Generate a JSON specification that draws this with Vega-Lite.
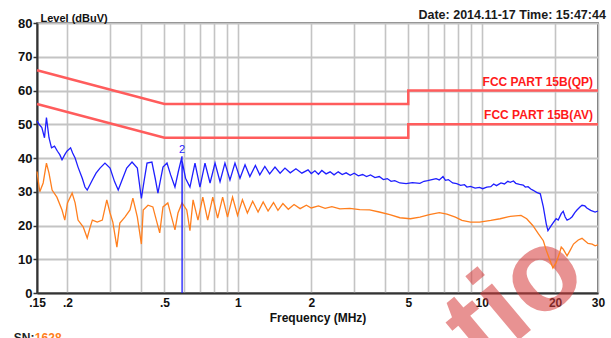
{
  "$schema": "https://vega.github.io/schema/vega-lite/v6.json",
  "width": 561,
  "height": 270,
  "autosize": {"type": "none"},
  "padding": {"left": 37, "top": 23, "right": 13, "bottom": 45},
  "background": "white",
  "title": {"text": "Date: 2014.11-17  Time: 15:47:44", "anchor": "end", "fontSize": 12.5, "fontWeight": "bold", "font": "Liberation Sans", "color": "#1a1a1a", "offset": -9},
  "config": {
    "view": {"stroke": "#3a3a3a", "strokeWidth": 1.5},
    "font": "Liberation Sans"
  },
  "datasets": {
    "limits": [
      {"s": "QP", "i": 1, "f": 0.15, "v": 66},
      {"s": "QP", "i": 2, "f": 0.5, "v": 56},
      {"s": "QP", "i": 3, "f": 5, "v": 56},
      {"s": "QP", "i": 4, "f": 5, "v": 60},
      {"s": "QP", "i": 5, "f": 30, "v": 60},
      {"s": "AV", "i": 1, "f": 0.15, "v": 56},
      {"s": "AV", "i": 2, "f": 0.5, "v": 46},
      {"s": "AV", "i": 3, "f": 5, "v": 46},
      {"s": "AV", "i": 4, "f": 5, "v": 50},
      {"s": "AV", "i": 5, "f": 30, "v": 50}
    ],
    "labels": [
      {"f": 30, "v": 60, "t": "FCC PART 15B(QP)"},
      {"f": 30, "v": 50, "t": "FCC PART 15B(AV)"}
    ],
    "marker": [{"f": 0.59, "v": 40.5, "t": "2"}],
    "watermark": [{"f": 10.17, "v": -22.8, "t": "tio"}],
    "footer": [
      {"f": 0.1204, "v": -14.5, "t": "SN:", "c": "k"},
      {"f": 0.147, "v": -14.5, "t": "1628", "c": "o"}
    ],
    "blue": [
      {"f": 0.150, "v": 51}, {"f": 0.153, "v": 50}, {"f": 0.157, "v": 49}, {"f": 0.161, "v": 46},
      {"f": 0.164, "v": 52}, {"f": 0.168, "v": 46}, {"f": 0.172, "v": 43}, {"f": 0.177, "v": 43.5},
      {"f": 0.182, "v": 42}, {"f": 0.186, "v": 41}, {"f": 0.190, "v": 39.5}, {"f": 0.195, "v": 41},
      {"f": 0.199, "v": 42}, {"f": 0.206, "v": 43}, {"f": 0.210, "v": 41.5}, {"f": 0.215, "v": 40},
      {"f": 0.221, "v": 37.3}, {"f": 0.230, "v": 34}, {"f": 0.236, "v": 31.4}, {"f": 0.241, "v": 30.5},
      {"f": 0.247, "v": 32}, {"f": 0.253, "v": 33.5}, {"f": 0.262, "v": 35.5}, {"f": 0.272, "v": 37},
      {"f": 0.285, "v": 38.5}, {"f": 0.299, "v": 37}, {"f": 0.312, "v": 33}, {"f": 0.323, "v": 30.5},
      {"f": 0.335, "v": 33.5}, {"f": 0.350, "v": 37}, {"f": 0.368, "v": 38.8}, {"f": 0.387, "v": 37},
      {"f": 0.402, "v": 28}, {"f": 0.412, "v": 33}, {"f": 0.424, "v": 38.5}, {"f": 0.444, "v": 38.8},
      {"f": 0.458, "v": 34}, {"f": 0.470, "v": 29.6}, {"f": 0.480, "v": 33}, {"f": 0.493, "v": 37.3},
      {"f": 0.512, "v": 38.5}, {"f": 0.530, "v": 35}, {"f": 0.552, "v": 31.4}, {"f": 0.570, "v": 36},
      {"f": 0.590, "v": 40.5}, {"f": 0.5905, "v": 0}, {"f": 0.591, "v": 39}, {"f": 0.610, "v": 34},
      {"f": 0.636, "v": 31.4}, {"f": 0.667, "v": 38.5}, {"f": 0.699, "v": 31.4}, {"f": 0.733, "v": 38.5},
      {"f": 0.769, "v": 32.6}, {"f": 0.806, "v": 38.5}, {"f": 0.845, "v": 33}, {"f": 0.885, "v": 38.5},
      {"f": 0.928, "v": 33.5}, {"f": 0.973, "v": 38.5}, {"f": 1.02, "v": 34}, {"f": 1.07, "v": 38},
      {"f": 1.12, "v": 34.5}, {"f": 1.18, "v": 37.8}, {"f": 1.23, "v": 35}, {"f": 1.29, "v": 37.5},
      {"f": 1.35, "v": 35.3}, {"f": 1.42, "v": 37.3}, {"f": 1.49, "v": 35.5}, {"f": 1.56, "v": 37},
      {"f": 1.64, "v": 35.6}, {"f": 1.73, "v": 36.8}, {"f": 1.83, "v": 35.5}, {"f": 1.94, "v": 36.5},
      {"f": 2.00, "v": 35.4}, {"f": 2.07, "v": 36.2}, {"f": 2.14, "v": 35.2}, {"f": 2.21, "v": 36.3},
      {"f": 2.30, "v": 35.3}, {"f": 2.39, "v": 35.9}, {"f": 2.48, "v": 35.0}, {"f": 2.58, "v": 35.9},
      {"f": 2.68, "v": 35.1}, {"f": 2.78, "v": 35.6}, {"f": 2.89, "v": 34.9}, {"f": 3.0, "v": 35.5},
      {"f": 3.12, "v": 34.7}, {"f": 3.25, "v": 35.1}, {"f": 3.37, "v": 34.5}, {"f": 3.5, "v": 35},
      {"f": 3.65, "v": 34.2}, {"f": 3.8, "v": 34.5}, {"f": 3.95, "v": 33.6}, {"f": 4.1, "v": 33.9},
      {"f": 4.25, "v": 33.1}, {"f": 4.4, "v": 33.3}, {"f": 4.62, "v": 32.6}, {"f": 4.9, "v": 32.4},
      {"f": 5.2, "v": 32.7}, {"f": 5.58, "v": 32.5}, {"f": 5.8, "v": 33.1}, {"f": 6.0, "v": 33.3},
      {"f": 6.25, "v": 33.6}, {"f": 6.5, "v": 33.9}, {"f": 6.7, "v": 33.5}, {"f": 6.94, "v": 34.5},
      {"f": 7.1, "v": 33.4}, {"f": 7.3, "v": 33.6}, {"f": 7.6, "v": 32.6}, {"f": 7.9, "v": 32.4},
      {"f": 8.2, "v": 31.9}, {"f": 8.5, "v": 32.1}, {"f": 8.7, "v": 31.4}, {"f": 9.0, "v": 31.6},
      {"f": 9.4, "v": 31.1}, {"f": 9.8, "v": 31.3}, {"f": 10.1, "v": 30.9}, {"f": 10.5, "v": 31.4},
      {"f": 10.9, "v": 31.5}, {"f": 11.2, "v": 32.3}, {"f": 11.5, "v": 31.8}, {"f": 12.0, "v": 32.6},
      {"f": 12.4, "v": 32.3}, {"f": 12.8, "v": 33.1}, {"f": 13.1, "v": 32.8}, {"f": 13.5, "v": 33.2},
      {"f": 13.8, "v": 32.5}, {"f": 14.3, "v": 32.2}, {"f": 14.8, "v": 32}, {"f": 15.1, "v": 31.4},
      {"f": 15.5, "v": 31.5}, {"f": 15.9, "v": 30.8}, {"f": 16.2, "v": 30.5}, {"f": 16.8, "v": 29.8},
      {"f": 17.4, "v": 29.4}, {"f": 17.9, "v": 25.5}, {"f": 18.4, "v": 20.5}, {"f": 18.7, "v": 18.5},
      {"f": 19.1, "v": 19.5}, {"f": 19.6, "v": 20.7}, {"f": 20.2, "v": 22}, {"f": 20.6, "v": 21.6},
      {"f": 21.2, "v": 23.5}, {"f": 21.6, "v": 24.2}, {"f": 22.0, "v": 22.5}, {"f": 22.4, "v": 21.6},
      {"f": 23.0, "v": 22}, {"f": 23.5, "v": 22.6}, {"f": 24.1, "v": 23.8}, {"f": 24.6, "v": 24.6},
      {"f": 25.3, "v": 25.5}, {"f": 25.8, "v": 26}, {"f": 26.5, "v": 25.8}, {"f": 27.0, "v": 25.2},
      {"f": 28.0, "v": 24.5}, {"f": 29.2, "v": 24}, {"f": 30, "v": 24.3}
    ],
    "orange": [
      {"f": 0.150, "v": 36}, {"f": 0.154, "v": 30}, {"f": 0.159, "v": 32.6}, {"f": 0.164, "v": 38.5},
      {"f": 0.168, "v": 35.5}, {"f": 0.173, "v": 30.5}, {"f": 0.181, "v": 28.4}, {"f": 0.190, "v": 24.6},
      {"f": 0.195, "v": 21.6}, {"f": 0.200, "v": 26.7}, {"f": 0.209, "v": 29.6}, {"f": 0.215, "v": 26.7},
      {"f": 0.221, "v": 21.6}, {"f": 0.232, "v": 19.6}, {"f": 0.241, "v": 16.3}, {"f": 0.248, "v": 19.6},
      {"f": 0.253, "v": 21.6}, {"f": 0.265, "v": 21}, {"f": 0.278, "v": 21.6}, {"f": 0.290, "v": 27.6},
      {"f": 0.299, "v": 23.7}, {"f": 0.307, "v": 21}, {"f": 0.319, "v": 13.6}, {"f": 0.328, "v": 20.7},
      {"f": 0.344, "v": 22.5}, {"f": 0.361, "v": 24.6}, {"f": 0.371, "v": 28.1}, {"f": 0.387, "v": 22.5},
      {"f": 0.402, "v": 14.5}, {"f": 0.409, "v": 24.6}, {"f": 0.428, "v": 26}, {"f": 0.448, "v": 25.5},
      {"f": 0.478, "v": 17.8}, {"f": 0.493, "v": 25.5}, {"f": 0.516, "v": 26.7}, {"f": 0.552, "v": 18.7},
      {"f": 0.568, "v": 23.7}, {"f": 0.590, "v": 26.7}, {"f": 0.617, "v": 24.6}, {"f": 0.636, "v": 18.5},
      {"f": 0.655, "v": 27.6}, {"f": 0.686, "v": 21.6}, {"f": 0.718, "v": 28.4}, {"f": 0.752, "v": 21.6},
      {"f": 0.789, "v": 28.4}, {"f": 0.826, "v": 22.2}, {"f": 0.866, "v": 28.4}, {"f": 0.907, "v": 22.5},
      {"f": 0.951, "v": 28.4}, {"f": 0.997, "v": 23}, {"f": 1.044, "v": 27.6}, {"f": 1.094, "v": 23.7},
      {"f": 1.15, "v": 27.2}, {"f": 1.21, "v": 24}, {"f": 1.27, "v": 27}, {"f": 1.33, "v": 24.3},
      {"f": 1.40, "v": 26.8}, {"f": 1.46, "v": 24.5}, {"f": 1.53, "v": 26.5}, {"f": 1.61, "v": 24.8},
      {"f": 1.70, "v": 26.2}, {"f": 1.80, "v": 25}, {"f": 1.91, "v": 26}, {"f": 2.00, "v": 25.2},
      {"f": 2.14, "v": 25.8}, {"f": 2.28, "v": 25.1}, {"f": 2.43, "v": 25.6}, {"f": 2.62, "v": 24.9},
      {"f": 2.88, "v": 25.1}, {"f": 3.16, "v": 24.7}, {"f": 3.47, "v": 24.6}, {"f": 3.8, "v": 24},
      {"f": 4.2, "v": 23.2}, {"f": 4.62, "v": 22.3}, {"f": 5.1, "v": 22}, {"f": 5.58, "v": 22.5},
      {"f": 6.1, "v": 23.2}, {"f": 6.7, "v": 23.8}, {"f": 7.2, "v": 23.4}, {"f": 7.8, "v": 22.5},
      {"f": 8.3, "v": 21.5}, {"f": 9.0, "v": 21}, {"f": 9.8, "v": 21}, {"f": 10.9, "v": 21.5},
      {"f": 11.9, "v": 22}, {"f": 13.1, "v": 22.7}, {"f": 14.5, "v": 23}, {"f": 15.3, "v": 22},
      {"f": 16.2, "v": 20}, {"f": 17.1, "v": 17.5}, {"f": 17.9, "v": 15.5}, {"f": 18.4, "v": 12.7},
      {"f": 19.1, "v": 9.5}, {"f": 19.6, "v": 7.4}, {"f": 20.2, "v": 9}, {"f": 20.9, "v": 12},
      {"f": 21.2, "v": 13.6}, {"f": 21.6, "v": 13}, {"f": 22.4, "v": 11}, {"f": 23.0, "v": 12.5},
      {"f": 23.8, "v": 14.5}, {"f": 24.9, "v": 15.7}, {"f": 25.8, "v": 16.2}, {"f": 26.5, "v": 15.5},
      {"f": 27.3, "v": 14.7}, {"f": 28.4, "v": 14.5}, {"f": 29.2, "v": 14}, {"f": 30, "v": 14.3}
    ]
  },
  "encoding": {
    "x": {
      "field": "f", "type": "quantitative",
      "scale": {"type": "log", "domain": [0.15, 30], "nice": false},
      "axis": {
        "values": [0.15, 0.2, 0.3, 0.4, 0.5, 0.6, 0.7, 0.8, 0.9, 1, 2, 3, 4, 5, 6, 7, 8, 9, 10, 20, 30],
        "tickCount": 30,
        "labelExpr": "datum.value == 0.15 ? '.15' : datum.value == 0.2 ? '.2' : datum.value == 0.5 ? '.5' : (datum.value == 1 || datum.value == 2 || datum.value == 5 || datum.value == 10 || datum.value == 20 || datum.value == 30) ? '' + datum.value : ''",
        "grid": true, "gridColor": "#c4c4c4", "gridWidth": 1.6,
        "ticks": false, "labelFlush": false, "labelOverlap": false,
        "labelFontSize": 12, "labelFontWeight": "bold", "labelColor": "#111", "labelPadding": 4,
        "domainColor": "#333", "domainWidth": 2,
        "title": "Frequency (MHz)", "titleFontSize": 12, "titleFontWeight": "bold", "titleColor": "#111", "titlePadding": 4
      }
    },
    "y": {
      "field": "v", "type": "quantitative",
      "scale": {"domain": [0, 80], "nice": false},
      "axis": {
        "values": [0, 10, 20, 30, 40, 50, 60, 70, 80],
        "tickCount": 12,
        "grid": true, "gridColor": "#c4c4c4", "gridWidth": 2,
        "ticks": true, "tickSize": 4, "tickColor": "#333", "tickWidth": 1.5,
        "labelOverlap": false,
        "labelFontSize": 13, "labelFontWeight": "bold", "labelColor": "#111", "labelPadding": 1,
        "domainColor": "#333", "domainWidth": 2,
        "title": "Level (dBuV)", "titleAngle": 0, "titleAlign": "left", "titleBaseline": "alphabetic",
        "titleX": 3, "titleY": -2, "titleFontSize": 11, "titleFontWeight": "bold", "titleColor": "#111"
      }
    }
  },
  "layer": [
    {
      "data": {"name": "limits"},
      "mark": {"type": "line", "stroke": "#ff5c5c", "strokeWidth": 2.5},
      "encoding": {
        "detail": {"field": "s"},
        "order": {"field": "i", "type": "quantitative"}
      }
    },
    {
      "data": {"name": "watermark"},
      "mark": {"type": "text", "align": "left", "baseline": "alphabetic", "angle": 320, "fontSize": 115, "fontWeight": "bold", "font": "Liberation Sans", "fill": "#d63a3a", "opacity": 0.55},
      "encoding": {
        "text": {"field": "t"}
      }
    },
    {
      "data": {"name": "orange"},
      "mark": {"type": "line", "stroke": "#ff7f1e", "strokeWidth": 1.3},
      "encoding": {}
    },
    {
      "data": {"name": "blue"},
      "mark": {"type": "line", "stroke": "#1f1fff", "strokeWidth": 1.3},
      "encoding": {}
    },
    {
      "data": {"name": "labels"},
      "mark": {"type": "text", "align": "right", "baseline": "middle", "dx": -5, "dy": -9, "fontSize": 12, "fontWeight": "bold", "fill": "#ff1a1a"},
      "encoding": {
        "text": {"field": "t"}
      }
    },
    {
      "data": {"name": "marker"},
      "mark": {"type": "text", "align": "center", "baseline": "bottom", "dy": -1, "fontSize": 11, "fill": "#1f1fff"},
      "encoding": {
        "text": {"field": "t"}
      }
    },
    {
      "data": {"name": "footer"},
      "mark": {"type": "text", "align": "left", "baseline": "alphabetic", "fontSize": 12, "fontWeight": "bold"},
      "encoding": {
        "text": {"field": "t"},
        "color": {"field": "c", "type": "nominal", "scale": {"domain": ["k", "o"], "range": ["#222222", "#ff7f1e"]}, "legend": null}
      }
    }
  ]
}
